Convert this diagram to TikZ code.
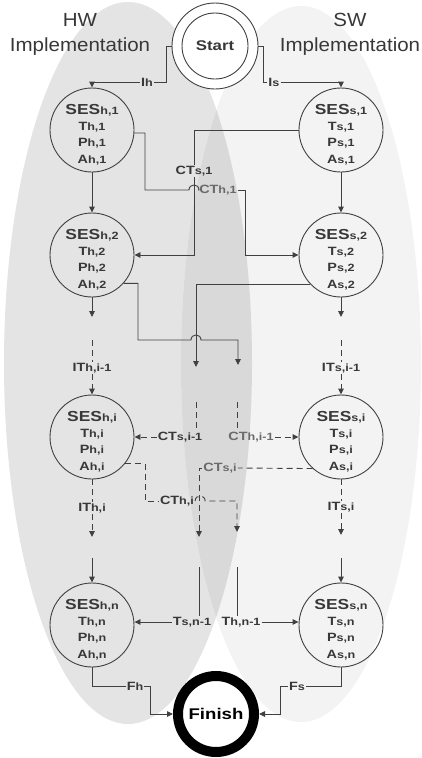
\documentclass[tikz,border=0pt]{standalone}
\usepackage{fontspec}
\setmainfont{Liberation Sans}[FakeStretch=1.08]
\newfontfamily\wb{Liberation Sans}[FakeStretch=1.2]
\usetikzlibrary{arrows.meta}
\definecolor{lc}{HTML}{404040}
\definecolor{tc}{HTML}{383838}
\definecolor{lt}{HTML}{6A6A6A}
\definecolor{hwc}{HTML}{E4E4E4}
\definecolor{swc}{HTML}{F3F3F3}
\definecolor{ovc}{HTML}{D9D9D9}
\newcommand{\mylab}[2]{{\fontsize{12}{14}\selectfont #1}{\fontsize{10.5}{12}\selectfont #2}}
\newcommand{\sesl}[1]{{\fontsize{14.5}{16}\selectfont SES}{\fontsize{10.5}{12}\selectfont #1}}
\newcommand{\sesbody}[1]{\sesl{#1}\\\mylab{T}{#1}\\\mylab{P}{#1}\\\mylab{A}{#1}}
\begin{document}
\begin{tikzpicture}[x=1pt,y=-1pt,
  ses/.style={circle,draw=lc,line width=0.9pt,minimum size=84pt,inner sep=0pt},
  sestxt/.style={align=center,text=tc,font=\wb\bfseries\fontsize{12}{16.3}\selectfont,inner sep=0pt},
  ln/.style={draw=lc,line width=0.9pt},
  arr/.style={-{Triangle[length=6pt,width=5.5pt]}},
  dsh/.style={dash pattern=on 6pt off 4pt},
  cl/.style={text=tc,font=\wb\bfseries,inner sep=1pt},
  cll/.style={text=lt,font=\wb\bfseries,inner sep=1pt},
  side/.style={align=center,text=tc,font=\fontsize{19}{25}\selectfont}
]
\useasboundingbox (0,0) rectangle (422,758);
% background ellipses
\fill[hwc] (128,363) ellipse [x radius=124pt, y radius=361pt];
\fill[swc] (301,364) ellipse [x radius=120pt, y radius=358pt];
\begin{scope}
\clip (128,363) ellipse [x radius=124pt, y radius=361pt];
\fill[ovc] (301,364) ellipse [x radius=120pt, y radius=358pt];
\end{scope}

\node[side] (hw) at (80,34) {HW\\Implementation};
\node[side] (sw) at (350,34) {SW\\Implementation};

% start / finish
\node[circle,draw=lc,line width=0.9pt,fill=white,minimum size=86pt,inner sep=0pt] (start) at (215,46) {};
\draw[ln] (start.center) circle [radius=33pt];
\node[text=tc,font=\wb\bfseries\fontsize{14}{16}\selectfont] (starttxt) at (start.center) {Start};
\node[circle,draw=black,line width=10pt,fill=white,minimum size=76pt,inner sep=0pt,text=black,font=\wb\bfseries\fontsize{15.5}{17}\selectfont] (finish) at (216,714) {Finish};

% SES nodes
\node[ses] (h1) at (92,130) {};
\node[sestxt] (h1t) at ([yshift=-4.5pt]h1.center) {\sesbody{h,1}};
\node[ses] (s1) at (341,130) {};
\node[sestxt] (s1t) at ([yshift=-4.5pt]s1.center) {\sesbody{s,1}};
\node[ses] (h2) at (92,255) {};
\node[sestxt] (h2t) at ([yshift=-4.5pt]h2.center) {\sesbody{h,2}};
\node[ses] (s2) at (341,255) {};
\node[sestxt] (s2t) at ([yshift=-4.5pt]s2.center) {\sesbody{s,2}};
\node[ses] (hi) at (92,437) {};
\node[sestxt] (hit) at ([yshift=-4.5pt]hi.center) {\sesbody{h,i}};
\node[ses] (si) at (341,437) {};
\node[sestxt] (sit) at ([yshift=-4.5pt]si.center) {\sesbody{s,i}};
\node[ses] (hn) at (92,625) {};
\node[sestxt] (hnt) at ([yshift=-4.5pt]hn.center) {\sesbody{h,n}};
\node[ses] (sn) at (341,625) {};
\node[sestxt] (snt) at ([yshift=-4.5pt]sn.center) {\sesbody{s,n}};

% connector labels
\node[cl] (Ih) at (147,82) {\mylab{I}{h}};
\node[cl] (Is) at (274,82) {\mylab{I}{s}};
\node[cl] (CTs1) at (194,171) {\mylab{CT}{s,1}};
\node[cll] (CTh1) at (218,190) {\mylab{CT}{h,1}};
\node[cl] (ITh1) at (92,368) {\mylab{IT}{h,i-1}};
\node[cl] (ITs1) at (341,368) {\mylab{IT}{s,i-1}};
\node[cl] (CTsi1) at (180,437) {\mylab{CT}{s,i-1}};
\node[cll] (CThi1) at (251,437) {\mylab{CT}{h,i-1}};
\node[cll] (CTsi) at (220,468) {\mylab{CT}{s,i}};
\node[cl] (CThi) at (177,501) {\mylab{CT}{h,i}};
\node[cl] (IThi) at (92,508) {\mylab{IT}{h,i}};
\node[cl] (ITsi) at (341,507) {\mylab{IT}{s,i}};
\node[cl] (Tsn1) at (192,622) {\mylab{T}{s,n-1}};
\node[cl] (Thn1) at (241,622) {\mylab{T}{h,n-1}};
\node[cl] (Fh) at (135,686) {\mylab{F}{h}};
\node[cl] (Fs) at (297,686) {\mylab{F}{s}};

% free ends
\coordinate (tipHR) at (238,365);
\coordinate (tipSL) at (196,367);
\coordinate (tipH2) at (92,317);
\coordinate (tipS2) at (341,317);
\coordinate (dH2) at (92,340);
\coordinate (dS2) at (341,340);
\coordinate (cSL) at (196,402);
\coordinate (cHR) at (237,402);
\coordinate (tipSL2) at (199,537);
\coordinate (tipHR2) at (237,532);
\coordinate (tipH3) at (92,537);
\coordinate (tipS3) at (341,535);
\coordinate (cH4) at (92,558);
\coordinate (cS4) at (341,558);
\coordinate (cSL3) at (199,567);
\coordinate (cHR3) at (237,567);

% start connectors
\draw[ln] (start.west) -- ++(-5,0) |- (Ih.east);
\draw[ln,arr] (Ih.west) -| (h1.north);
\draw[ln] (start.east) -- ++(5,0) |- (Is.west);
\draw[ln,arr] (Is.east) -| (s1.north);

\draw[ln,arr] (h1.south) -- (h2.north);
\draw[ln,arr] (s1.south) -- (s2.north);

% CT h,1
\draw[ln] (h1.-4) -| (145,190) -- (189,190) .. controls (189,183.3) and (199,183.3) .. (199,190) -- (CTh1.west);
\draw[ln,arr] (CTh1.east) -- (245,190) |- (s2.west);
% CT s,1
\draw[ln] (s1.west) -| (CTs1.north);
\draw[ln,arr] (CTs1.south) |- (h2.east);

% from level 2
\draw[ln,arr] (h2.-42) -| (138,340) -- (191,340) .. controls (191,333.3) and (201,333.3) .. (201,340) -| (tipHR);
\draw[ln,arr] (s2.224) -| (tipSL);
\draw[ln,arr] (h2.south) -- (tipH2);
\draw[ln,arr] (s2.south) -- (tipS2);

% IT i-1
\draw[ln,dsh] (dH2) -- (ITh1.north);
\draw[ln,dsh,arr] (ITh1.south) -- (hi.north);
\draw[ln,dsh] (dS2) -- (ITs1.north);
\draw[ln,dsh,arr] (ITs1.south) -- (si.north);

% CT i-1
\draw[ln,dsh] (cSL) -- (cSL |- CTsi1.north);
\draw[ln,dsh,arr] (CTsi1.west) -- (hi.east);
\draw[ln,dsh] (cHR) -- (cHR |- CThi1.north);
\draw[ln,dsh,arr] (CThi1.east) -- (si.west);

% CT s,i
\draw[ln,dsh] (si.228) -- (CTsi.east);
\draw[ln,dsh,arr] (CTsi.west) -| (tipSL2);
% CT h,i
\draw[ln,dsh] (hi.-38) -| (145,501) -- (CThi.west);
\draw[ln,dsh,arr] (CThi.east) .. controls +(0,-6.7) and +(0,-6.7) .. ++(10,0) -| (tipHR2);

% IT i
\draw[ln,dsh] (hi.south) -- (IThi.north);
\draw[ln,dsh,arr] (IThi.south) -- (tipH3);
\draw[ln,dsh] (si.south) -- (ITsi.north);
\draw[ln,dsh,arr] (ITsi.south) -- (tipS3);

% to level n
\draw[ln,arr] (cH4) -- (hn.north);
\draw[ln,arr] (cS4) -- (sn.north);
\draw[ln] (cSL3) -- (cSL3 |- Tsn1.north);
\draw[ln,arr] (Tsn1.west) -- (Tsn1.west -| hn.east);
\draw[ln] (cHR3) -- (cHR3 |- Thn1.north);
\draw[ln,arr] (Thn1.east) -- (Thn1.east -| sn.west);

% finish
\draw[ln] (hn.south) |- (Fh.west);
\draw[ln,arr] (Fh.east) -- ++(6,0) |- (finish.west);
\draw[ln] (sn.south) |- (Fs.east);
\draw[ln,arr] (Fs.west) -- ++(-7,0) |- (finish.east);
\end{tikzpicture}
\end{document}
